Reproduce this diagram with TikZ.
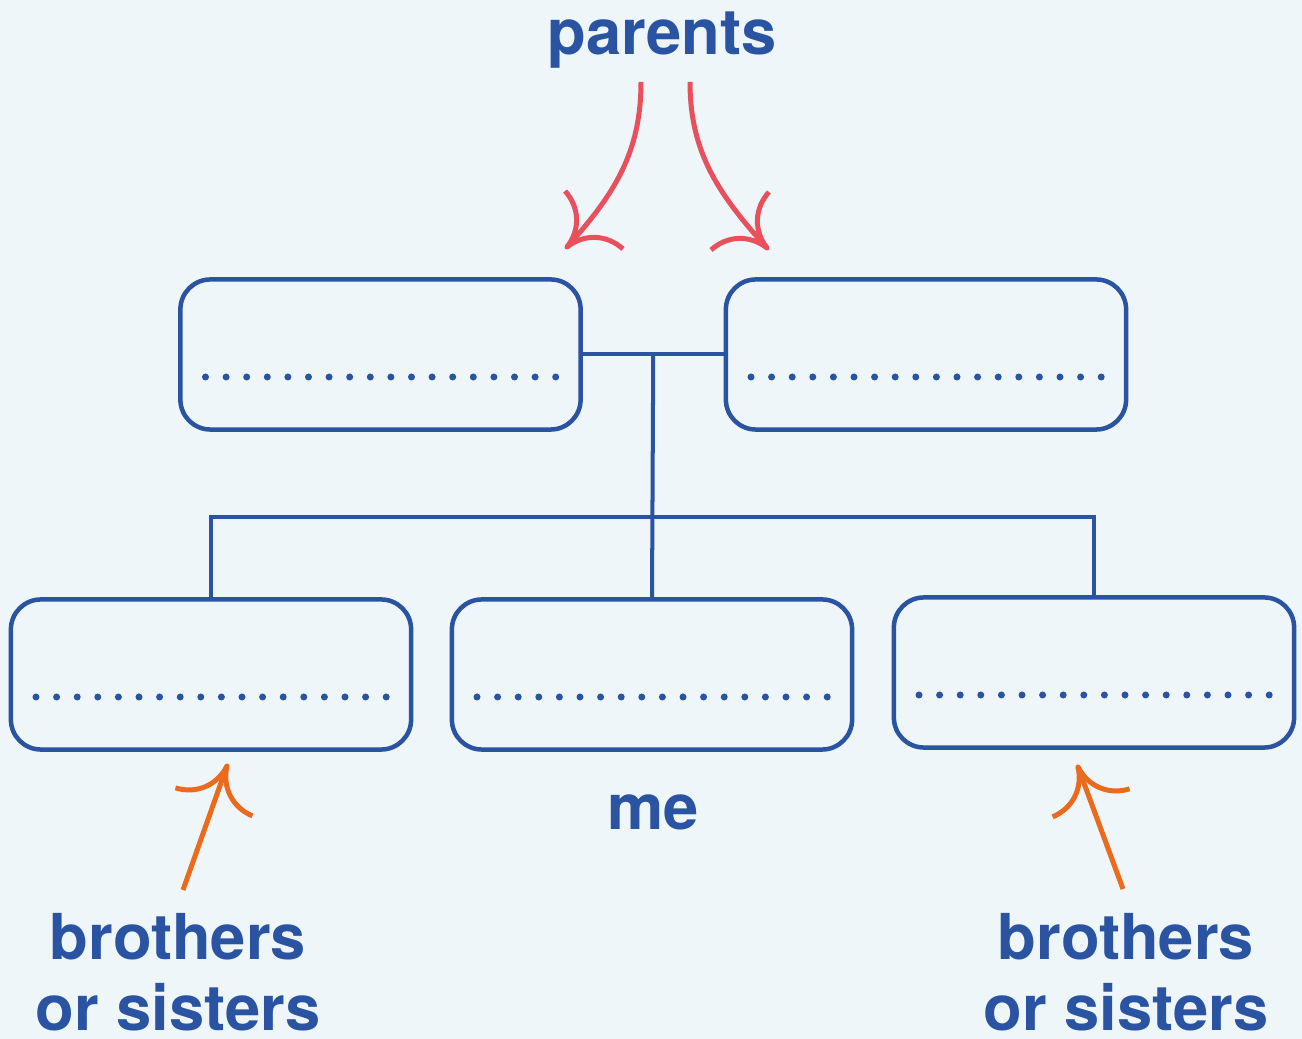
\documentclass[tikz,border=0pt]{standalone}
\usepackage{fontspec}
\setmainfont{TeX Gyre Heros}
\usetikzlibrary{calc}

\definecolor{famblue}{HTML}{2A53A1}
\definecolor{parred}{HTML}{E8505B}
\definecolor{sibor}{HTML}{EC6A1C}
\definecolor{bgpale}{HTML}{EEF6FA}

% curved arrow head: tip, back angle, colour
\newcommand{\curlytip}[3]{%
  \draw[#3, line width=1.42pt, line join=round] (#1) ++({#2+47}:56) to[bend left=40] (#1) to[bend left=40] ++({#2-47}:56);}

\begin{document}
\begin{tikzpicture}[x=0.01cm,y=0.01cm,
    box/.style={draw=famblue, line width=1.28pt, rounded corners=0.3cm, minimum width=4cm, minimum height=1.5cm, inner sep=0pt},
    link/.style={draw=famblue, line width=1.14pt},
    lbl/.style={text=famblue, font=\bfseries\fontsize{18}{20.2}\selectfont, inner sep=0pt},
    shaft/.style={line width=1.42pt}]
	% Background and frame
	\fill[bgpale] (0,0) rectangle (1302,1039);
	\useasboundingbox (0,0) rectangle (1302,1039);
	
	% Boxes of the family
	\node[box] (parentL) at (380.5,684.5) {};
	\node[box] (parentR) at (926,684.5) {};
	\node[box] (sibL) at (211,364.5) {};
	\node[box] (me) at (652,364.5) {};
	\node[box] (sibR) at (1094,366.5) {};
	
	% Dotted lines to write on
	\foreach \b in {parentL,parentR,sibL,me,sibR}
		\foreach \i in {0,...,17}
			\fill[famblue] ($(\b.center)+(-175+\i*20.6,-22.5)$) circle (0.035cm);
	
	% Family tree lines
	\coordinate (join) at ($(parentL.east)!0.5!(parentR.west)$);
	\draw[link] (parentL.east) -- (parentR.west);
	\draw[link] (join) -- (me.north);
	\draw[link] (sibL.north) -- ++(0,80) -| (sibR.north);
	
	% Labels
	\node[lbl, anchor=base] (parTxt) at (662,984) {parents};
	\node[lbl, anchor=base] (meTxt) at (653,209) {me};
	\node[lbl, anchor=base, align=center] (sibTxtL) at (178,8) {brothers\\or sisters};
	\node[lbl, anchor=base, align=center] (sibTxtR) at (1126,8) {brothers\\or sisters};
	
	% Arrows to the parents
	\coordinate (parTailL) at (641,957);
	\coordinate (parTipL) at (567,792);
	\coordinate (parTailR) at (690,957);
	\coordinate (parTipR) at (767,791);
	\draw[shaft, parred] (parTailL) to[out=-90,in=48] (parTipL);
	\draw[shaft, parred] (parTailR) to[out=-90,in=132] (parTipR);
	\curlytip{parTipL}{45}{parred}
	\curlytip{parTipR}{135}{parred}
	
	% Arrows to the brothers or sisters
	\coordinate (sibTailL) at (183,149);
	\coordinate (sibTipL) at (227,273);
	\coordinate (sibTailR) at (1123,150);
	\coordinate (sibTipR) at (1078,272);
	\draw[shaft, sibor] (sibTailL) -- (sibTipL);
	\draw[shaft, sibor] (sibTailR) -- (sibTipR);
	\curlytip{sibTipL}{250}{sibor}
	\curlytip{sibTipR}{290}{sibor}
	
\end{tikzpicture}
\end{document}
